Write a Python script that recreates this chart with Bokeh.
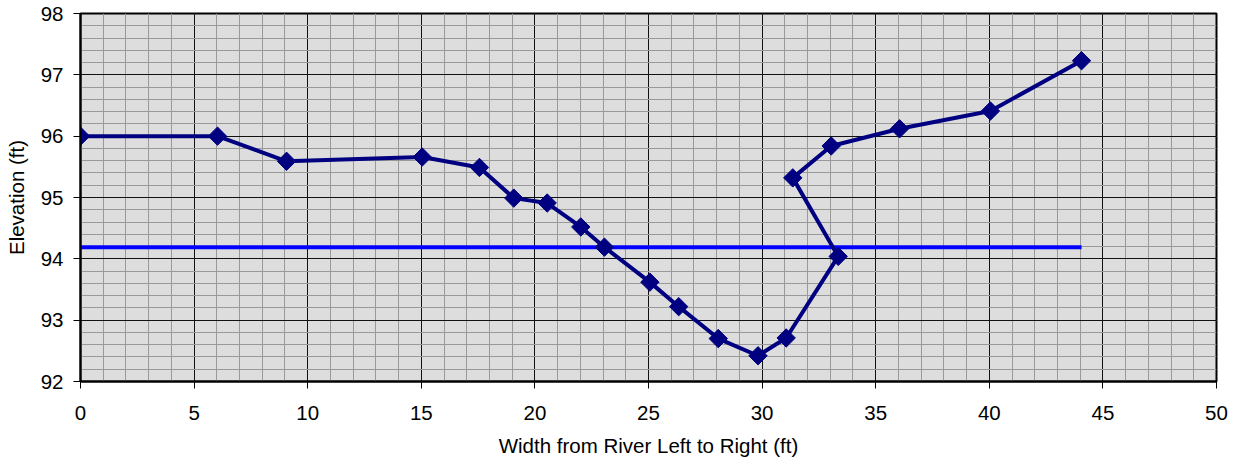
import math
from bokeh.plotting import figure
from bokeh.models import FixedTicker, Range1d
from bokeh.embed import file_html
from bokeh.resources import INLINE

# Data
width_ft = [0, 6.03, 9.07, 15.04, 17.56, 19.07, 20.54, 22.02, 23.06, 25.06,
            26.33, 28.07, 29.82, 31.06, 33.35, 31.35, 33.04, 36.05, 40.05, 44.06]
elev_ft = [96.0, 96.0, 95.59, 95.66, 95.49, 94.99, 94.91, 94.52, 94.19, 93.62,
           93.22, 92.70, 92.42, 92.71, 94.04, 95.32, 95.84, 96.12, 96.41, 97.23]
water_x = [0, 44.06]
water_y = [94.19, 94.19]

x_major = [0, 5, 10, 15, 20, 25, 30, 35, 40, 45, 50]
x_minor = list(range(0, 51))
y_major = [92, 93, 94, 95, 96, 97, 98]
y_minor = [92 + 0.2 * i for i in range(31)]

FONT = "Liberation Sans"

p = figure(width=1237, height=464, output_backend="svg", toolbar_location=None,
           x_range=Range1d(0, 50), y_range=Range1d(92, 98),
           min_border_left=80, min_border_right=21, min_border_top=13, min_border_bottom=83)

p.background_fill_color = "#DDDDDD"
p.border_fill_color = "white"
p.outline_line_color = "black"
p.outline_line_width = 2

p.xaxis.ticker = FixedTicker(ticks=x_major, minor_ticks=x_minor)
p.yaxis.ticker = FixedTicker(ticks=y_major, minor_ticks=y_minor)

for g in (p.xgrid, p.ygrid):
    g.grid_line_color = "#111111"
    g.grid_line_width = 1
    g.minor_grid_line_color = "#999999"
    g.minor_grid_line_width = 1

for ax in (p.xaxis, p.yaxis):
    ax.axis_line_color = "black"
    ax.axis_line_width = 2
    ax.major_tick_line_color = "black"
    ax.major_tick_line_width = 1
    ax.major_tick_out = 7
    ax.major_tick_in = 0
    ax.minor_tick_line_color = None
    ax.major_label_text_font = FONT
    ax.major_label_text_font_size = "20.5px"
    ax.major_label_text_color = "black"
    ax.axis_label_text_font = FONT
    ax.axis_label_text_font_size = "20.5px"
    ax.axis_label_text_font_style = "normal"
    ax.axis_label_text_color = "black"

p.xaxis.axis_label = "Width from River Left to Right (ft)"
p.yaxis.axis_label = "Elevation (ft)"
p.xaxis.major_label_standoff = 17
p.xaxis.axis_label_standoff = 11
p.yaxis.major_label_standoff = 10
p.yaxis.axis_label_standoff = 10

p.line(water_x, water_y, line_color="#0000FF", line_width=4)
p.line(width_ft, elev_ft, line_color="#000080", line_width=4)
p.scatter(width_ft, elev_ft, marker="square", size=13, angle=math.pi / 4,
          fill_color="#000080", line_color="#000080")

open("out.html", "w").write(file_html(p, INLINE))
